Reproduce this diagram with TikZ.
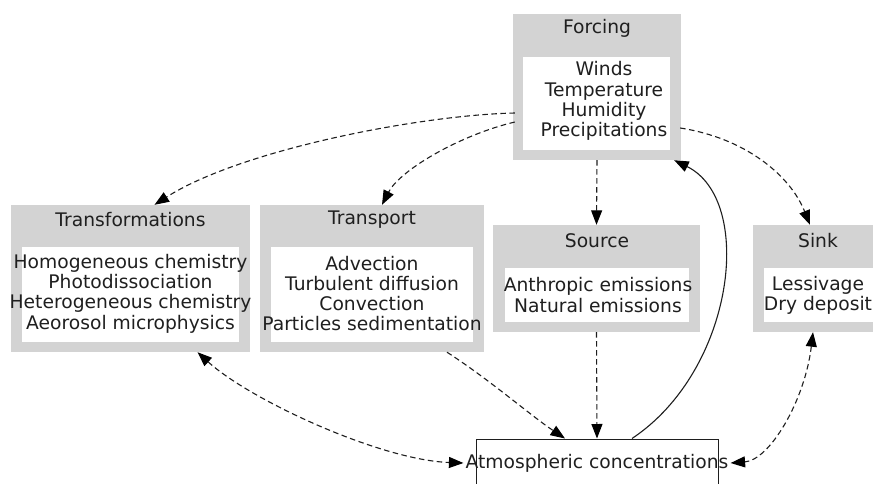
\documentclass[tikz,border=0pt]{standalone}
\usepackage{fontspec}
\setmainfont{DejaVu Sans}
\usetikzlibrary{arrows.meta,calc}
\definecolor{boxgray}{RGB}{211,211,211}
\definecolor{linegray}{RGB}{30,30,30}
\begin{document}
\begin{tikzpicture}[x=1pt,y=-1pt,
  font=\fontsize{18.7}{20.3}\selectfont,
  >={Triangle[length=14.5pt,width=11pt,color=black]},
  outerbox/.style={fill=boxgray, draw=none, inner sep=0pt},
  innerbox/.style={fill=white, draw=none, inner sep=0pt},
  txt/.style={inner sep=0pt, align=center, text=black!88},
  dashedline/.style={draw=linegray, line width=1.1pt, dash pattern=on 5.5pt off 3.5pt},
  solidline/.style={draw=linegray, line width=1.1pt}]
\useasboundingbox (0,0) rectangle (873,483);
\clip (0,0) rectangle (873,483);

% Forcing
\node[outerbox, minimum width=168pt, minimum height=146pt] (forcing) at (597,87) {};
\node[innerbox, minimum width=147pt, minimum height=93pt] (forcingin) at (596.5,103.5) {};
\node[txt] (forcingtitle) at (597,28) {Forcing};
\node[txt] (forcingtext) at (604,101) {Winds\\Temperature\\Humidity\\Precipitations};

% Transformations
\node[outerbox, minimum width=239pt, minimum height=147pt] (transf) at (130.5,278.5) {};
\node[innerbox, minimum width=217pt, minimum height=95pt] (transfin) at (130.5,294.5) {};
\node[txt] (transftitle) at (130.5,220) {Transformations};
\node[txt] (transftext) at (130.5,293.5) {Homogeneous chemistry\\Photodissociation\\Heterogeneous chemistry\\Aeorosol microphysics};

% Transport
\node[outerbox, minimum width=224pt, minimum height=147pt] (transport) at (372,278.5) {};
\node[innerbox, minimum width=202pt, minimum height=95pt] (transportin) at (372,294.5) {};
\node[txt] (transporttitle) at (372,220) {Transport};
\node[txt] (transporttext) at (372,293.5) {Advection\\Turbulent diffusion\\Convection\\Particles sedimentation};

% Source
\node[outerbox, minimum width=207pt, minimum height=107pt] (source) at (596.5,278.5) {};
\node[innerbox, minimum width=184pt, minimum height=54pt] (sourcein) at (597,295) {};
\node[txt] (sourcetitle) at (597,241) {Source};
\node[txt] (sourcetext) at (598,295) {Anthropic emissions\\Natural emissions};

% Sink
\node[outerbox, minimum width=130pt, minimum height=107pt] (sink) at (818,278.5) {};
\node[innerbox, minimum width=112pt, minimum height=54pt] (sinkin) at (820,295) {};
\node[txt] (sinktitle) at (818,241) {Sink};
\node[txt] (sinktext) at (818,295) {Lessivage\\Dry deposit};

% Atmospheric concentrations
\node[draw=linegray, line width=1pt, minimum width=242pt, minimum height=48pt, inner sep=0pt] (atm) at (597,463) {};
\node[txt, inner xsep=2pt] (atmtext) at (597,463) {Atmospheric concentrations};

% Connectors
\draw[dashedline, ->] ($(forcing.west)+(2,26)$) .. controls (420,115) and (240,150) .. ($(transf.north)+(24,0)$);
\draw[dashedline, ->] ($(forcing.west)+(2,35)$) .. controls (460,135) and (400,170) .. ($(transport.north)+(10,0)$);
\draw[dashedline, ->] (forcing.south) -- (source.north);
\draw[dashedline, ->] ($(forcing.east)+(-1,41)$) .. controls (745,138) and (790,175) .. ($(sink.north)+(-8,0)$);
\draw[solidline, ->] ($(atm.north)+(35,0)$) .. controls (735,370) and (755,200) .. ($(forcing.south east)+(-7,0)$);
\draw[dashedline, <->] ($(transf.south)+(67,0)$) .. controls (250,400) and (380,460) .. (atmtext.west);
\draw[dashedline, ->] ($(transport.south)+(75,0)$) .. controls (490,380) and (530,415) .. ($(atm.north)+(-32,0)$);
\draw[dashedline, ->] (source.south) -- (atm.north);
\draw[dashedline, <->] ($(sink.south)+(-5,0)$) .. controls (805,400) and (770,460) .. (atmtext.east);
\end{tikzpicture}
\end{document}
